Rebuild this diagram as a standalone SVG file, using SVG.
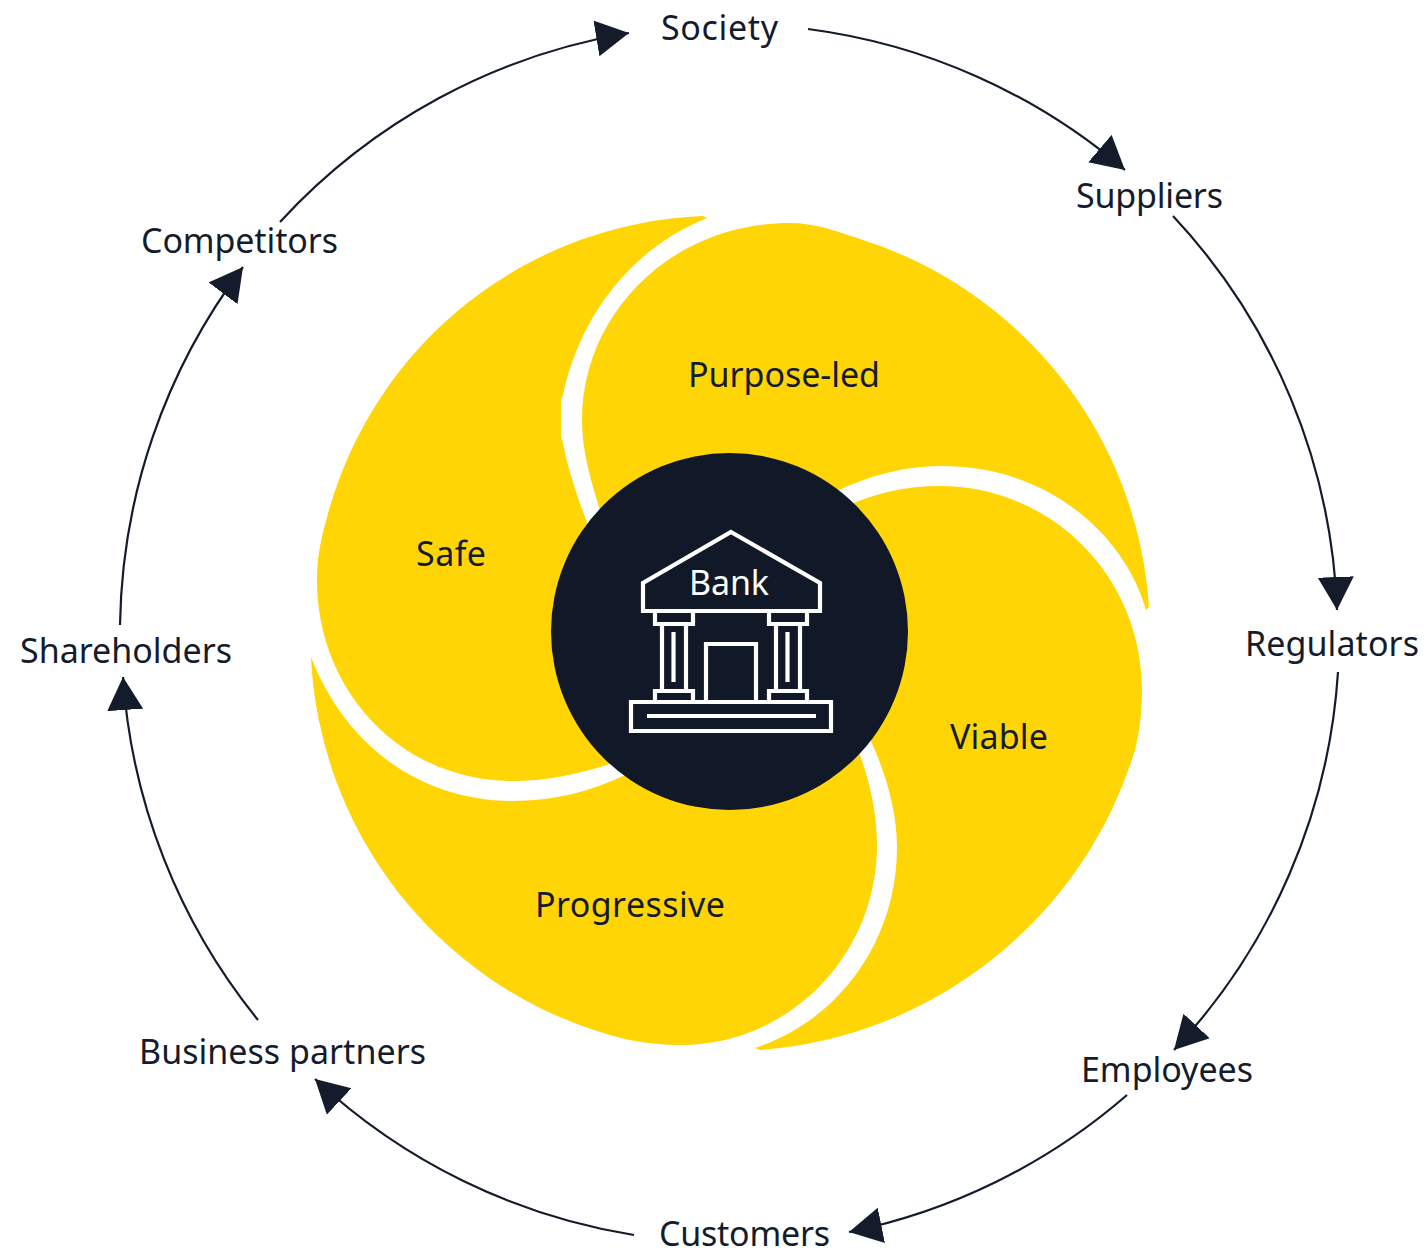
<svg xmlns="http://www.w3.org/2000/svg" width="1427" height="1254" viewBox="0 0 1427 1254">
<style>
.p{fill:#ffd505}
.t{font-family:"Noto Sans","Liberation Sans",sans-serif;font-size:34px;fill:#141c2c;text-anchor:middle}
.c{fill:none;stroke:#141c2c;stroke-width:2.2;marker-end:url(#a)}
.i{fill:none;stroke:#fff;stroke-width:4.2}
</style>
<defs><marker id="a" markerUnits="userSpaceOnUse" markerWidth="36" markerHeight="38" refX="33" refY="18" orient="auto"><path d="M0 0L33 18L0 36Z" fill="#141c2c"/></marker></defs>
<rect width="1427" height="1254" fill="#fff"/>
<g id="connectors">
<path class="c" d="M808 29A609 609 0 0 1 1125 170"/>
<path class="c" d="M1173 216A609 609 0 0 1 1337 610"/>
<path class="c" d="M1338 672A609 609 0 0 1 1174 1050"/>
<path class="c" d="M1127 1095A609 609 0 0 1 849 1232"/>
<path class="c" d="M634 1235A609 609 0 0 1 315 1079"/>
<path class="c" d="M258 1020A609 609 0 0 1 123 677"/>
<path class="c" d="M120 625A609 609 0 0 1 243 267"/>
<path class="c" d="M280 222A609 609 0 0 1 629 33"/>
</g>
<g id="safe"><path class="p" d="M703 216A405 405 0 0 0 329 510C321 539 317 555 317 580C317 690 400 781 513 781C550 781 590 772 630 757L590 530C580 505 568 470 563 443L561 437V400L563 395C580 315 632 248 707 218Z"/><text class="t" x="451" y="566" textLength="70">Safe</text></g>
<g id="purpose-led"><path class="p" d="M790 223C815 223 836 231 860 239A414 414 0 0 1 1149 607L1146 610C1132 560 1095 518 1050 493C1015 474 980 466 940 466C905 466 870 475 835 492L605 525C590 480 582 450 582 420C582 315 670 223 790 223Z"/><text class="t" x="784" y="387" textLength="192">Purpose-led</text></g>
<g id="viable"><path class="p" d="M845 507C875 493 905 486 940 486C1050 486 1142 575 1142 690C1142 710 1140 730 1135 750A425 425 0 0 1 760 1050L755 1048C840 1020 897 940 897 847C897 810 885 770 868 735Z"/><text class="t" x="999" y="749" textLength="98">Viable</text></g>
<g id="progressive"><path class="p" d="M311 657A413 413 0 0 0 600 1032C625 1040 650 1045 680 1045C790 1045 877 955 877 845C877 815 870 780 858 750L625 775C590 792 552 801 513 801C420 801 345 745 311 657Z"/><text class="t" x="630" y="917" textLength="190">Progressive</text></g>
<g id="bank">
<circle cx="729.500" cy="631.500" r="178.500" fill="#111827"/>
<path class="i" d="M731 532L820 583V611H643V583Z"/>
<path class="i" d="M655 611V624H693V611M769 611V624H807V611M662 624V691M686 624V691M776 624V691M800 624V691M655 702V691H693V702M769 702V691H807V702M706 702V644H756V702"/>
<path class="i" d="M631 702H831V731H631Z"/>
<path class="i" d="M673.500 632V682M787.500 632V682M647 716H816"/>
<text class="t" x="729" y="595" textLength="80" style="fill:#fff">Bank</text>
</g>
<g id="society"><text class="t" x="719.500" y="40" textLength="117">Society</text></g>
<g id="suppliers"><text class="t" x="1149.500" y="208" textLength="147">Suppliers</text></g>
<g id="regulators"><text class="t" x="1332" y="656" textLength="174">Regulators</text></g>
<g id="employees"><text class="t" x="1167" y="1082" textLength="172">Employees</text></g>
<g id="customers"><text class="t" x="744.500" y="1246" textLength="171">Customers</text></g>
<g id="business-partners"><text class="t" x="282.500" y="1064" textLength="287">Business partners</text></g>
<g id="shareholders"><text class="t" x="126" y="663" textLength="212">Shareholders</text></g>
<g id="competitors"><text class="t" x="239.500" y="253" textLength="197">Competitors</text></g>
</svg>
